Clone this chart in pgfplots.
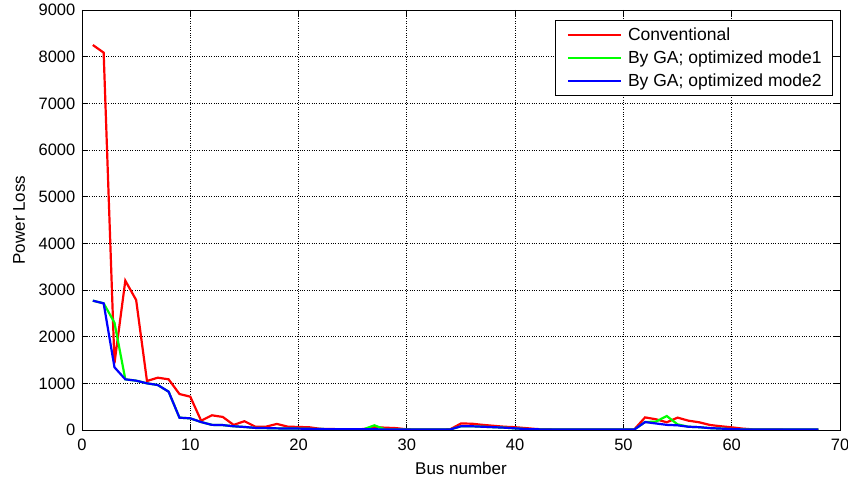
\documentclass[border=0pt]{standalone}
\usepackage{fontspec}
\setmainfont{Liberation Sans}
\usepackage{pgfplots}
\pgfplotsset{compat=1.18}
\pgfplotstableread{
bus conv ga1 ga2
1 8250 2771 2771
2 8086 2714 2714
3 1430 2300 1343
4 3200 1086 1086
5 2786 1057 1057
6 1050 1000 1000
7 1121 964 964
8 1086 821 821
9 771 264 264
10 714 250 250
11 200 170 170
12 315 110 110
13 280 105 105
14 109 80 80
15 188 65 65
16 72 45 45
17 72 40 40
18 130 35 35
19 72 30 30
20 65 30 30
21 58 25 25
22 25 20 20
23 20 18 18
24 18 15 15
25 15 15 15
26 20 15 15
27 60 100 15
28 50 12 12
29 40 10 10
30 15 10 10
31 12 10 10
32 12 10 10
33 12 10 10
34 15 12 12
35 140 80 80
36 135 80 80
37 110 70 70
38 90 60 60
39 70 50 50
40 60 35 35
41 40 20 20
42 20 15 15
43 15 10 10
44 12 10 10
45 10 10 10
46 10 10 10
47 10 10 10
48 10 10 10
49 10 10 10
50 10 10 10
51 12 10 10
52 270 170 170
53 230 180 140
54 165 300 110
55 265 120 100
56 200 70 70
57 165 60 60
58 107 40 40
59 80 30 30
60 57 20 20
61 30 12 12
62 12 10 10
63 10 10 10
64 10 10 10
65 8 10 10
66 8 10 10
67 8 10 10
68 8 10 10
}\datatable
\begin{document}
\fontsize{16.5bp}{19bp}\selectfont
\begin{tikzpicture}
\begin{axis}[
  name=ax,
  scale only axis,
  width=758bp, height=420bp,
  xmin=0, xmax=70, ymin=0, ymax=9000,
  xtick={0,10,...,70},
  ytick={0,1000,...,9000},
  tick align=inside,
  major tick length=6bp,
  xmajorgrids, ymajorgrids,
  grid style={black, dotted, line width=0.8bp},
  axis line style={black, line width=0.8bp},
  every tick/.style={black, line width=0.8bp},
  /pgf/number format/assume math mode=true,
  /pgf/number format/1000 sep={},
  scaled y ticks=false,
  ticklabel style={font=\fontsize{16.5bp}{19bp}\selectfont},
  xticklabel style={yshift=-3bp},
  yticklabel style={xshift=-1bp},
  xlabel={Bus number},
  ylabel={Power Loss},
  label style={font=\fontsize{17bp}{20bp}\selectfont},
  xlabel style={at={(axis description cs:0.5,0)}, anchor=center, yshift=-38bp},
  ylabel style={at={(axis description cs:-0.0831,0.5)}, anchor=center},
  legend style={at={(1,1)}, anchor=north east, xshift=-7bp, yshift=-10bp,
    draw=black, line width=0.8bp, font=\fontsize{17.5bp}{20bp}\selectfont,
    inner xsep=11bp, inner ysep=7bp, row sep=8bp, column sep=6bp,
    nodes={inner sep=0pt}},
  legend cell align=left,
  legend image code/.code={\draw[#1, line width=2.2bp] (0bp,0bp) -- (53bp,0bp);},
]
\addplot[red, line width=2.2bp] table[x=bus, y=conv] {\datatable};
\addlegendentry{Conventional}
\addplot[green, line width=2.2bp] table[x=bus, y=ga1] {\datatable};
\addlegendentry{By GA; optimized mode1}
\addplot[blue, line width=2.2bp] table[x=bus, y=ga2] {\datatable};
\addlegendentry{By GA; optimized mode2}
\end{axis}
\pgfresetboundingbox
\path (ax.south west) ++(-82bp,-50bp) rectangle ++(848bp,480bp);
\end{tikzpicture}
\end{document}
